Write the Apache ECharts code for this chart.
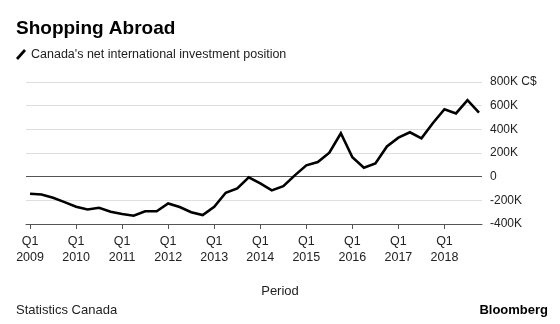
<!DOCTYPE html>
<html>
<head>
<meta charset="utf-8">
<script src="https://cdn.jsdelivr.net/npm/echarts@6/dist/echarts.min.js"></script>
<style>
html,body{margin:0;padding:0;background:#fff;}
#main{width:560px;height:324px;}
</style>
</head>
<body>
<div id="main"></div>
<script>
const quarters = [
  '2009 Q1','2009 Q2','2009 Q3','2009 Q4',
  '2010 Q1','2010 Q2','2010 Q3','2010 Q4',
  '2011 Q1','2011 Q2','2011 Q3','2011 Q4',
  '2012 Q1','2012 Q2','2012 Q3','2012 Q4',
  '2013 Q1','2013 Q2','2013 Q3','2013 Q4',
  '2014 Q1','2014 Q2','2014 Q3','2014 Q4',
  '2015 Q1','2015 Q2','2015 Q3','2015 Q4',
  '2016 Q1','2016 Q2','2016 Q3','2016 Q4',
  '2017 Q1','2017 Q2','2017 Q3','2017 Q4',
  '2018 Q1','2018 Q2','2018 Q3','2018 Q4'
];
// Canada's net international investment position, thousands of C$ (K)
const niip = [
  -144, -150, -178, -215,
  -254, -277, -263, -297,
  -315, -330, -292, -292,
  -226, -256, -300, -325,
  -254, -136, -99, -5,
  -57, -116, -80, 11,
  96, 124, 203, 367,
  164, 76, 112, 255,
  330, 375, 324, 454,
  570, 534, 646, 542
];
const xTickIndex = [0, 4, 8, 12, 16, 20, 24, 28, 32, 36];
const xTickLabels = ['Q1\n2009','Q1\n2010','Q1\n2011','Q1\n2012','Q1\n2013','Q1\n2014','Q1\n2015','Q1\n2016','Q1\n2017','Q1\n2018'];
const yTickValues = [-400, -200, 0, 200, 400, 600, 800];
const yTickLabels = ['-400K', '-200K', '0', '200K', '400K', '600K', '800K C$'];
const seriesName = "Canada's net international investment position";

const FONT = '"Liberation Sans", Arial, Helvetica, sans-serif';
const chart = echarts.init(document.getElementById('main'), null, {renderer: 'canvas'});

const option = {
  backgroundColor: '#fff',
  animation: false,
  textStyle: {fontFamily: FONT},
  title: [
    {text: 'Shopping Abroad', left: 16, top: 19, padding: 0,
     textStyle: {fontFamily: FONT, fontSize: 19, fontWeight: 'bold', color: '#000'}},
    {text: 'Period', left: 'center', top: 285, padding: 0,
     textStyle: {fontFamily: FONT, fontSize: 13, fontWeight: 'normal', color: '#222'}},
    {text: 'Statistics Canada', left: 16, top: 304, padding: 0,
     textStyle: {fontFamily: FONT, fontSize: 13, fontWeight: 'normal', color: '#222'}},
    {text: 'Bloomberg', right: 12, top: 304, padding: 0,
     textStyle: {fontFamily: FONT, fontSize: 13, fontWeight: 'bold', color: '#000'}}
  ],
  legend: {
    left: 16, top: 48, padding: 0,
    itemWidth: 10, itemHeight: 11, itemGap: 6,
    icon: 'path://M0,9 L8,0 L10,1.8 L2,10.8 Z',
    textStyle: {fontFamily: FONT, fontSize: 12.5, color: '#222', padding: [0, 0, 0, 0]},
    data: [{name: seriesName, itemStyle: {color: '#000'}}]
  },
  grid: {left: 26, right: 78, top: 82, bottom: 100, containLabel: false},
  xAxis: {
    type: 'value',
    min: -0.35, max: 39.26,
    splitLine: {show: false},
    axisLine: {show: true, onZero: false, lineStyle: {color: '#555', width: 1}},
    axisTick: {show: true, length: 5, customValues: xTickIndex, lineStyle: {color: '#555'}},
    axisLabel: {
      customValues: xTickIndex,
      margin: 10,
      fontFamily: FONT, fontSize: 12.5, lineHeight: 16, color: '#222',
      formatter: function (v) {
        const k = xTickIndex.indexOf(Math.round(v));
        return k >= 0 ? xTickLabels[k] : '';
      }
    }
  },
  yAxis: {
    type: 'value',
    position: 'right',
    min: -400, max: 800, interval: 200,
    axisLine: {show: false},
    axisTick: {show: false},
    splitLine: {show: true, lineStyle: {color: '#dedede', width: 1}},
    axisLabel: {
      margin: 8,
      fontFamily: FONT, fontSize: 12, color: '#222',
      formatter: function (v) {
        const k = yTickValues.indexOf(v);
        return k >= 0 ? yTickLabels[k] : '';
      }
    }
  },
  series: [{
    name: seriesName,
    type: 'line',
    data: niip.map((v, i) => [i, v]),
    showSymbol: false,
    symbol: 'none',
    lineStyle: {color: '#000', width: 2.6, join: 'miter'},
    itemStyle: {color: '#000'},
    markLine: {
      silent: true,
      symbol: ['none', 'none'],
      label: {show: false},
      lineStyle: {color: '#555', width: 1, type: 'solid'},
      data: [{yAxis: 0}],
      z: 1
    },
    z: 3
  }]
};
chart.setOption(option);
</script>
</body>
</html>
